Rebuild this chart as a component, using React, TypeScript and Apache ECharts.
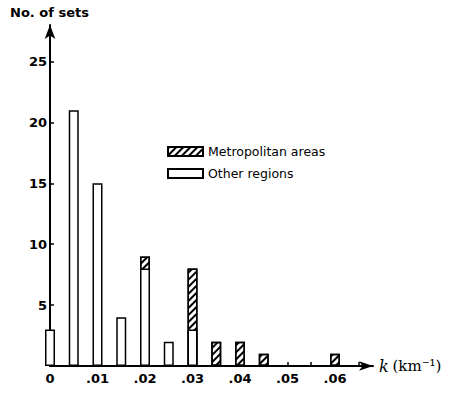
import React, { useEffect, useRef } from "react";
import * as echarts from "echarts";

const kValues = [0, 0.005, 0.01, 0.015, 0.02, 0.025, 0.03, 0.035, 0.04, 0.045, 0.06];
const otherRegions = [3, 21, 15, 4, 8, 2, 3, 0, 0, 0, 0];
const metropolitan = [0, 0, 0, 0, 1, 0, 5, 2, 2, 1, 1];
const xTickValues = [0.005, 0.01, 0.015, 0.02, 0.025, 0.03, 0.035, 0.04, 0.045, 0.05, 0.055, 0.06, 0.065];
const xLabelValues = [0, 0.01, 0.02, 0.03, 0.04, 0.05, 0.06];
const yTickValues = [5, 10, 15, 20, 25];

const FONT = "DejaVu Sans";

export default function App() {
  const ref = useRef<HTMLDivElement>(null);
  useEffect(() => {
    if (!ref.current) return;
    const chart = echarts.init(ref.current, null, { renderer: "svg" });
    const barBase = {
      type: "bar",
      barWidth: 10,
      barGap: "-100%",
      clip: false,
    };
    chart.setOption({
      animation: false,
      backgroundColor: "#fff",
      textStyle: { fontFamily: FONT, color: "#000" },
      grid: { left: 50, right: 87, top: 25, bottom: 27, containLabel: false },
      graphic: [
        {
          type: "text",
          left: 10,
          top: 6,
          style: { text: "No. of sets", font: `bold 13px ${FONT}`, fill: "#000" },
        },
      ],
      legend: {
        orient: "vertical",
        left: 167,
        top: 145,
        itemWidth: 35,
        itemHeight: 9,
        itemGap: 9,
        itemTextGap: 2,
        padding: 0,
        icon: "rect",
        data: ["Metropolitan areas", "Other regions"],
        textStyle: { fontFamily: FONT, fontSize: 12.5, color: "#000" },
      },
      xAxis: {
        type: "value",
        min: 0,
        max: 0.068,
        splitLine: { show: false },
        axisLine: {
          lineStyle: { color: "#000", width: 2 },
          symbol: ["none", "arrow"],
          symbolSize: [7, 14],
        },
        axisTick: { inside: true, length: 4, lineStyle: { color: "#000", width: 1.5 }, customValues: xTickValues },
        axisLabel: {
          margin: 6,
          customValues: xLabelValues,
          fontFamily: FONT,
          fontSize: 13,
          fontWeight: "bold",
          color: "#000",
          formatter: (v: number) => {
            const r = Math.round(v * 100);
            return r === 0 ? "0" : "." + String(r).padStart(2, "0");
          },
        },
        name: "{k|k} {u|(km⁻¹)}",
        nameLocation: "end",
        nameGap: 6,
        nameTextStyle: {
          rich: {
            k: { fontFamily: "DejaVu Serif", fontStyle: "italic", fontSize: 16, color: "#000" },
            u: { fontFamily: "DejaVu Serif", fontSize: 15, color: "#000" },
          },
        },
      },
      yAxis: {
        type: "value",
        min: 0,
        max: 28,
        splitLine: { show: false },
        axisLine: {
          show: true,
          lineStyle: { color: "#000", width: 2 },
          symbol: ["none", "arrow"],
          symbolSize: [8, 14],
        },
        axisTick: { show: true, inside: true, length: 4, lineStyle: { color: "#000", width: 1.5 }, customValues: yTickValues },
        axisLabel: {
          margin: 3,
          customValues: yTickValues,
          fontFamily: FONT,
          fontSize: 13,
          fontWeight: "bold",
          color: "#000",
        },
      },
      series: [
        {
          ...barBase,
          name: "Metropolitan areas",
          data: kValues.map((k, i) => [k, metropolitan[i] > 0 ? otherRegions[i] + metropolitan[i] : "-"]),
          itemStyle: {
            color: "#fff",
            borderColor: "#000",
            borderWidth: 1.5,
            decal: {
              symbol: "rect",
              symbolSize: 1,
              dashArrayX: [1, 0],
              dashArrayY: [1.2, 2.8],
              rotation: -Math.PI / 4,
              color: "#000",
              backgroundColor: "#fff",
            },
          },
        },
        {
          ...barBase,
          name: "Other regions",
          data: kValues.map((k, i) => [k, otherRegions[i] > 0 ? otherRegions[i] : "-"]),
          itemStyle: { color: "#fff", borderColor: "#000", borderWidth: 1.5 },
        },
      ],
    });
    return () => chart.dispose();
  }, []);
  return (
    <div
      ref={ref}
      style={{ position: "fixed", left: 0, top: 0, width: 460, height: 393, background: "#fff" }}
    />
  );
}
